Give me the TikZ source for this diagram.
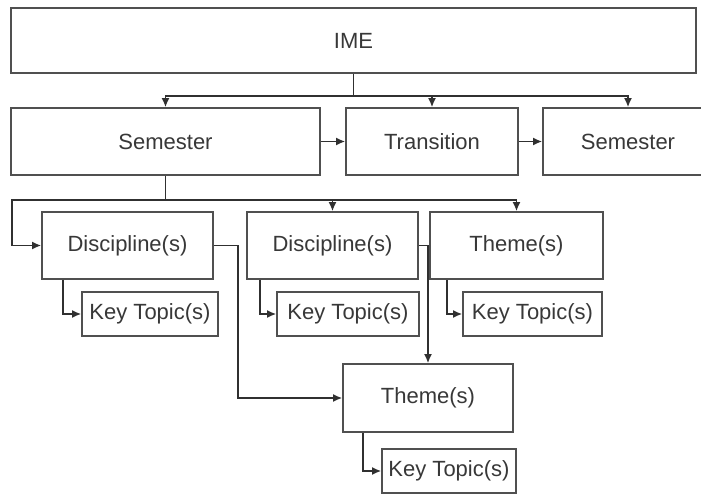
\documentclass[tikz,border=0pt]{standalone}
\usepackage{fontspec}
\setmainfont{Liberation Sans}
\usetikzlibrary{arrows.meta}
\definecolor{boxc}{HTML}{505050}
\definecolor{linec}{HTML}{303030}
\definecolor{txtc}{HTML}{383838}
\tikzset{
  box/.style={draw=boxc, line width=1.7pt, rectangle, inner sep=0pt, text=txtc,
              font=\fontsize{22}{25}\selectfont},
  conn/.style={draw=linec, line width=1.6pt},
  arr/.style={conn, -{Latex[length=9pt,width=8pt]}}
}
\begin{document}
\begin{tikzpicture}[x=1pt,y=-1pt]
\path[fill=white] (0,0) rectangle (701,495);
\useasboundingbox (0,0) rectangle (701,495);
\clip (0,0) rectangle (701,495);
% top
\node[box, minimum width=685pt, minimum height=65pt] (IME) at (353.5,40.5) {IME};
% level 1
\node[box, minimum width=309pt, minimum height=67pt] (Sem1) at (165.5,141.5) {Semester};
\node[box, minimum width=172pt, minimum height=67pt] (Trans) at (432,141.5) {Transition};
\node[box, minimum width=170pt, minimum height=67pt] (Sem2) at (628,141.5) {Semester};
% level 2
\node[box, minimum width=171pt, minimum height=67pt] (Disc1) at (127.5,245.5) {Discipline(s)};
\node[box, minimum width=171pt, minimum height=67pt] (Disc2) at (332.5,245.5) {Discipline(s)};
\node[box, minimum width=173pt, minimum height=67pt] (Theme1) at (516.5,245.5) {Theme(s)};
% key topics
\node[box, minimum width=136pt, minimum height=44pt] (KT1) at (150,314) {Key Topic(s)};
\node[box, minimum width=142pt, minimum height=44pt] (KT2) at (348,314) {Key Topic(s)};
\node[box, minimum width=139pt, minimum height=44pt] (KT3) at (532.5,314) {Key Topic(s)};
% lower theme
\node[box, minimum width=170pt, minimum height=68pt] (Theme2) at (428,398) {Theme(s)};
\node[box, minimum width=134pt, minimum height=44pt] (KT4) at (449,471) {Key Topic(s)};
% connectors
\coordinate (bus1) at (IME.south |- 0,96);
\draw[conn] (IME.south) -- (bus1);
\draw[arr] (bus1) -| (Sem1);
\draw[arr] (bus1) -| (Trans);
\draw[arr] (bus1) -| (Sem2);
\draw[arr] (Sem1) -- (Trans);
\draw[arr] (Trans) -- (Sem2);
\coordinate (bus2) at (Sem1.south |- 0,200);
\coordinate (busL) at (12,200);
\draw[conn] (Sem1.south) -- (bus2);
\draw[arr] (bus2) -| (Disc2);
\draw[arr] (bus2) -| (Theme1);
\draw[arr] (bus2) -- (busL) |- (Disc1);
\draw[arr] ([xshift=-64.5pt]Disc1.south) |- (KT1);
\draw[arr] ([xshift=-72.5pt]Disc2.south) |- (KT2);
\draw[arr] ([xshift=-69.5pt]Theme1.south) |- (KT3);
\draw[arr] ([xshift=-65pt]Theme2.south) |- (KT4);
\draw[arr] (Disc1.east) -- ++(24,0) |- (Theme2);
\draw[arr] (Disc2.east) -| (Theme2);
\end{tikzpicture}
\end{document}
